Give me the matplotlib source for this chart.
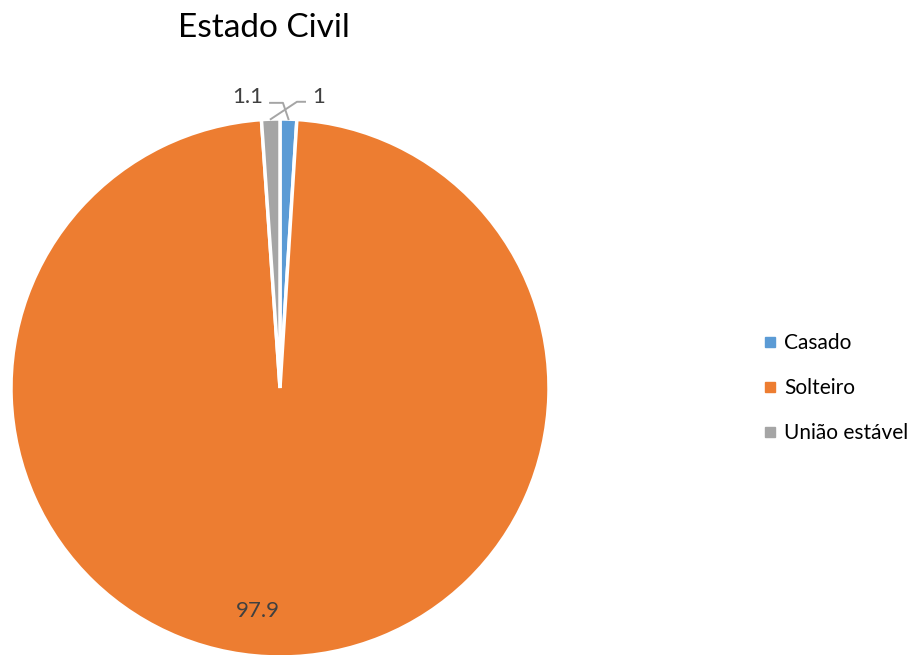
import numpy as np
import matplotlib
matplotlib.use("Agg")
import matplotlib.pyplot as plt
from matplotlib.lines import Line2D

categories = ["Casado", "Solteiro", "União estável"]
values = [1, 97.9, 1.1]
labels = ["1", "97.9", "1.1"]
colors = ["#5B9BD5", "#ED7D31", "#A5A5A5"]

plt.rcParams['font.family'] = ['Lato', 'DejaVu Sans']

W, H = 921, 655
fig = plt.figure(figsize=(W / 100, H / 100), dpi=100)
cx, cy, r = 280, 388, 269
ax = fig.add_axes([(cx - r) / W, (H - cy - r) / H, 2 * r / W, 2 * r / H])
ax.set_aspect('equal')
ax.axis('off')

wedges, _ = ax.pie(values, colors=colors, startangle=90, counterclock=False,
                   radius=1, wedgeprops=dict(edgecolor='white', linewidth=2.5))
ax.set_xlim(-1, 1)
ax.set_ylim(-1, 1)

# mid angles
total = sum(values)
angles = []
start = 90.0
for v in values:
    span = 360 * v / total
    angles.append(np.deg2rad(start - span / 2))
    start -= span

txtcol = "#404040"
fs = 16
ax.text(-0.082, -0.83, labels[1], ha='center', va='center', fontsize=fs, color=txtcol)
ax.text(0.142, 1.082, labels[0], ha='center', va='center', fontsize=fs, color=txtcol)
ax.text(-0.119, 1.082, labels[2], ha='center', va='center', fontsize=fs, color=txtcol)

lc = "#A5A5A5"
pb = (np.cos(angles[0]), np.sin(angles[0]))
ax.plot([-0.037, 0.011, pb[0]], [1.06, 1.06, pb[1]], color=lc, lw=1.4, clip_on=False)
pg = (np.cos(angles[2]), np.sin(angles[2]))
ax.plot([0.093, 0.063, pg[0]], [1.064, 1.064, pg[1]], color=lc, lw=1.4, clip_on=False)

fig.text(264 / W, 1 - 28 / H, "Estado Civil", ha='center', va='center',
         fontsize=24, color='black')

handles = [Line2D([0], [0], marker='s', color='none', markerfacecolor=c,
                  markeredgecolor=c, markersize=7) for c in colors]
fig.legend(handles, categories, loc='center left', bbox_to_anchor=(764 / W, 1 - 388 / H),
           frameon=False, fontsize=15, handlelength=0.6, handletextpad=0.35,
           labelspacing=1.2, labelcolor='black', borderpad=0, borderaxespad=0)

fig.savefig("out.png", dpi=100)
